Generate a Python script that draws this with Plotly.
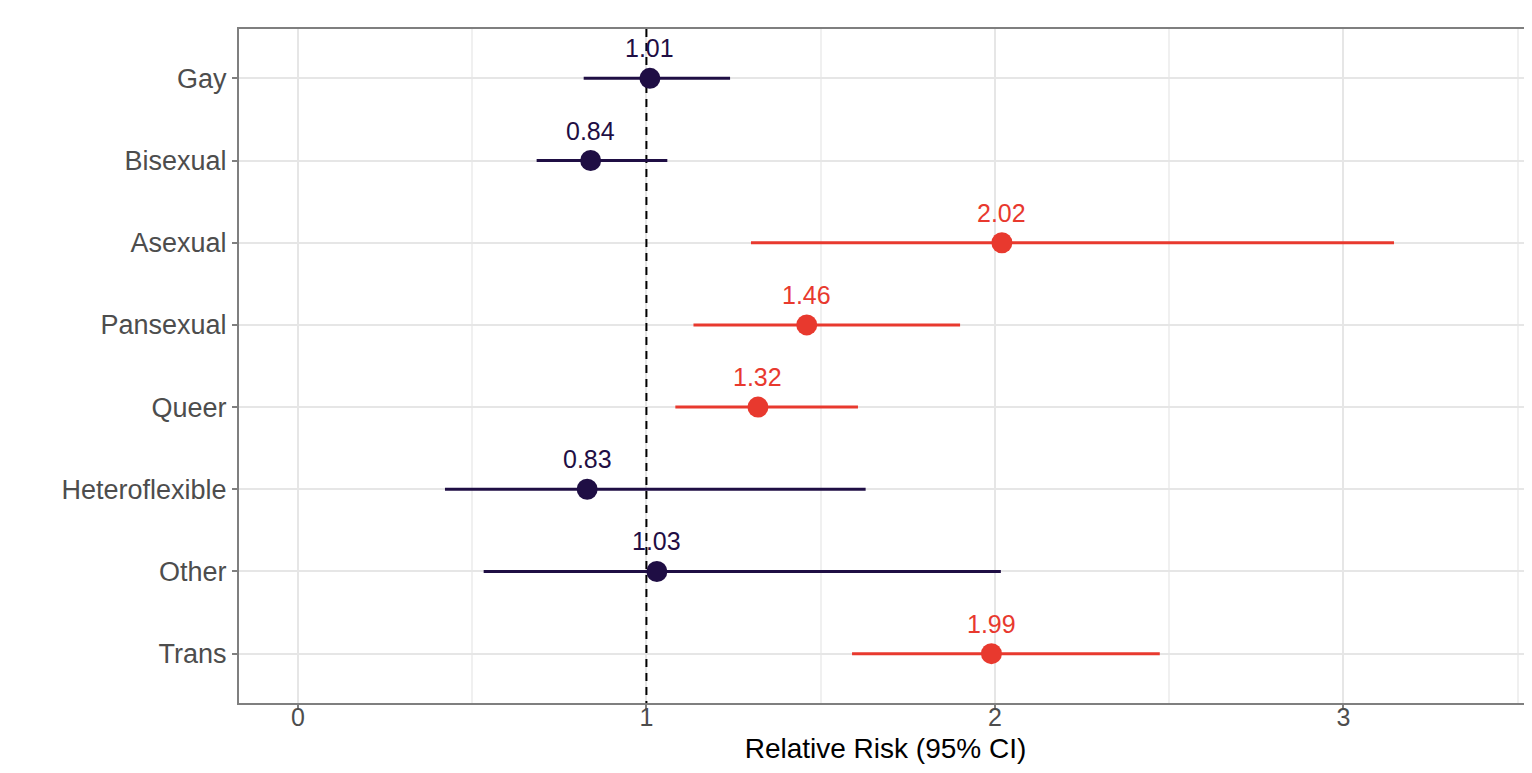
import plotly.graph_objects as go

categories = ["Gay", "Bisexual", "Asexual", "Pansexual", "Queer", "Heteroflexible", "Other", "Trans"]
rr = [1.01, 0.84, 2.02, 1.46, 1.32, 0.83, 1.03, 1.99]
ci_low = [0.82, 0.685, 1.30, 1.135, 1.083, 0.422, 0.533, 1.59]
ci_high = [1.24, 1.06, 3.145, 1.90, 1.607, 1.629, 2.017, 2.473]
significant = [False, False, True, True, True, False, False, True]
labels = ["1.01", "0.84", "2.02", "1.46", "1.32", "0.83", "1.03", "1.99"]
x_ticks = [0, 1, 2, 3]
reference_value = 1

NAVY = "#1f0e44"
RED = "#e8392e"
FONT = "Liberation Sans, Arial, Helvetica"

ypos = list(range(len(categories)))
y_lo, y_hi = -0.6, len(categories) - 0.4

fig = go.Figure()

# reference (no-effect) line, drawn first so it sits beneath the points
fig.add_trace(go.Scatter(
    x=[reference_value, reference_value], y=[y_lo, y_hi],
    mode="lines", line=dict(color="black", width=2, dash="8px,6px"),
    showlegend=False, hoverinfo="skip",
))

for sig, color in [(False, NAVY), (True, RED)]:
    idx = [i for i, s in enumerate(significant) if s == sig]
    fig.add_trace(go.Scatter(
        x=[rr[i] for i in idx],
        y=[ypos[i] for i in idx],
        mode="markers",
        marker=dict(size=21, color=color),
        error_x=dict(
            type="data", symmetric=False,
            array=[ci_high[i] - rr[i] for i in idx],
            arrayminus=[rr[i] - ci_low[i] for i in idx],
            thickness=3, width=0, color=color,
        ),
        showlegend=False,
        hoverinfo="skip",
    ))
    for i in idx:
        fig.add_annotation(
            x=rr[i], y=ypos[i], text=labels[i], showarrow=False,
            yshift=30, font=dict(family=FONT, size=25, color=color),
        )

# page body has an 8px default margin; compensate so the plot sits where the reference does
fig.update_layout(
    width=1524, height=765,
    margin=dict(l=231, r=0, t=21, b=70, autoexpand=False),
    paper_bgcolor="white", plot_bgcolor="white",
    font=dict(family=FONT, size=26, color="#4d4d4d"),
)

fig.update_xaxes(
    range=[-0.169, 3.541],
    tickvals=x_ticks, ticktext=[str(t) for t in x_ticks],
    ticks="outside", ticklen=5, tickcolor="#7f7f7f", tickwidth=2,
    ticklabelstandoff=-14,
    showgrid=True, gridcolor="#e6e6e6", gridwidth=2,
    minor=dict(dtick=0.5, tick0=0, showgrid=True, gridcolor="#f0f0f0", gridwidth=1.5, ticks=""),
    showline=True, linecolor="#7f7f7f", linewidth=2, mirror=True,
    zeroline=False, automargin=False,
    tickfont=dict(size=25, color="#4d4d4d"),
    title=dict(text="Relative Risk (95% CI)", font=dict(size=28, color="black"), standoff=8),
)

fig.update_yaxes(
    range=[y_hi, y_lo],
    tickvals=ypos, ticktext=categories,
    ticks="outside", ticklen=5, tickcolor="#7f7f7f", tickwidth=2,
    showgrid=True, gridcolor="#e6e6e6", gridwidth=2,
    showline=True, linecolor="#7f7f7f", linewidth=2, mirror=False,
    zeroline=False, automargin=False,
    tickfont=dict(size=27, color="#4d4d4d"),
)

fig.write_html("out.html")
